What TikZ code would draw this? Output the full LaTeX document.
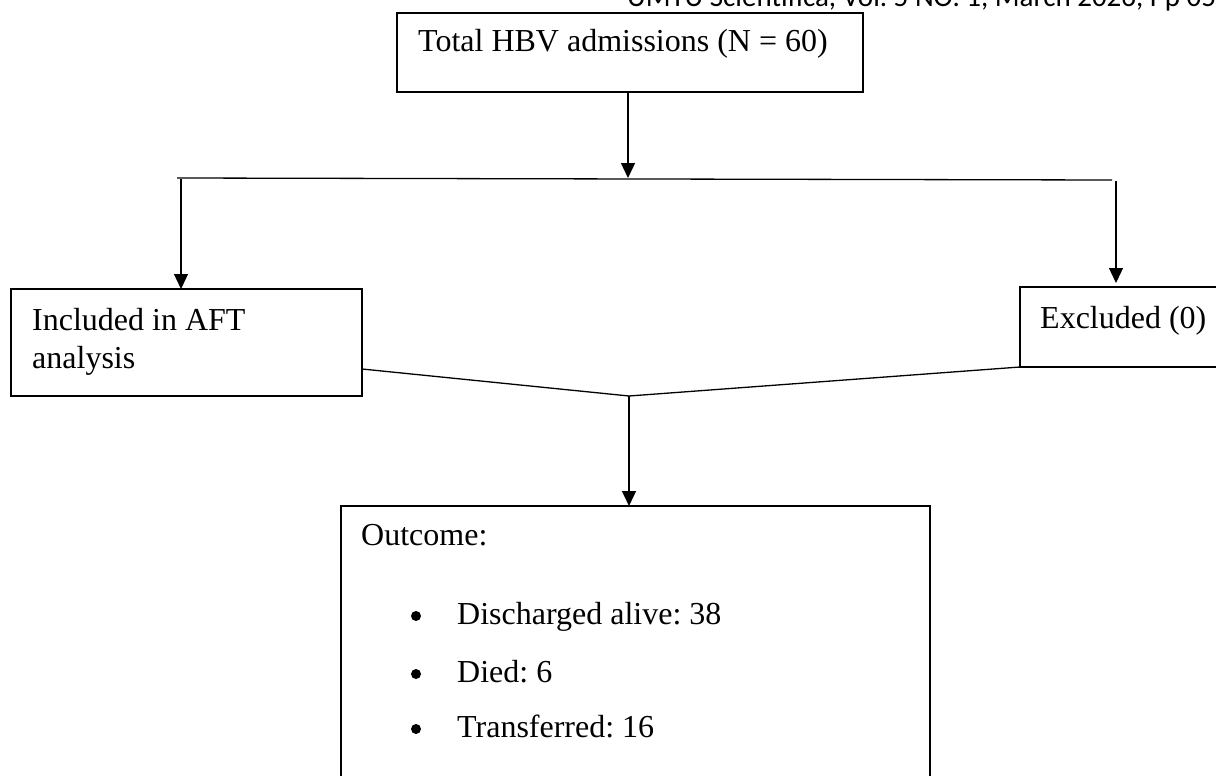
\documentclass[tikz,border=0pt]{standalone}
\usepackage{fontspec}
\setmainfont{Liberation Serif}
\newfontfamily\hdrfont{Carlito}
\usetikzlibrary{arrows.meta,calc}
\frenchspacing
\begin{document}
\begin{tikzpicture}[x=1pt,y=-1pt,
  box/.style={draw, line width=1.3pt, inner sep=0pt, outer sep=0pt, anchor=north west},
  txt/.style={inner sep=0pt, anchor=base west, font=\fontsize{32pt}{38pt}\selectfont},
  dot/.style={circle, fill=black, inner sep=0pt, minimum size=10pt},
  conn/.style={line width=1.3pt},
  arr/.style={conn, -{Triangle[width=14pt,length=15pt]}}]
\useasboundingbox (0,0) rectangle (1216,776);
\clip (0,0) rectangle (1216,776);
% running header (cut by the page edge, as in the reference)
\node[inner sep=0pt, anchor=base west, font=\hdrfont\fontsize{29pt}{34pt}\selectfont] (hdr) at (627,7) {UMYU Scientifica, Vol. 5 NO. 1, March 2026, Pp 05};
% boxes
\node[box, minimum width=466pt, minimum height=79pt] (top) at (397,13) {};
\node[box, minimum width=351pt, minimum height=107pt] (incl) at (11,289) {};
\node[box, minimum width=260pt, minimum height=80pt] (excl) at (1020,287) {};
\node[box, minimum width=589pt, minimum height=300pt] (out) at (341,506) {};
% texts
\node[txt] (toptxt) at (418,52) {Total HBV admissions (N = 60)};
\node[txt] (incltxta) at (32,330) {Included in AFT};
\node[txt] (incltxtb) at (32,368) {analysis};
\node[txt] (excltxt) at (1040,328) {Excluded (0)};
\node[txt] (outtxt) at (361,545) {Outcome:};
\node[dot] (b1) at (416,616) {};
\node[dot] (b2) at (416,674) {};
\node[dot] (b3) at (416,729) {};
\node[txt] (o1) at (457,624) {Discharged alive: 38};
\node[txt] (o2) at (457,682) {Died: 6};
\node[txt] (o3) at (457,737) {Transferred: 16};
% connectors
\coordinate (split) at (628,178);
\coordinate (hl) at (177,178);
\coordinate (hr) at (1112,180);
\coordinate (la) at (181,179);
\coordinate (ra) at (1116,181);
\coordinate (join) at (629,396);
\draw[arr] (top.south -| split) -- (split);
\draw[conn] (hl) -- (hr);
\draw[arr] (la) -- (la |- incl.north);
\draw[arr, shorten >=4pt] (ra) -- (ra |- excl.north);
\draw[conn] ($(incl.south east)+(0,-27)$) -- (join);
\draw[conn] (excl.south west) -- (join);
\draw[arr] (join) -- (join |- out.north);
\end{tikzpicture}
\end{document}
